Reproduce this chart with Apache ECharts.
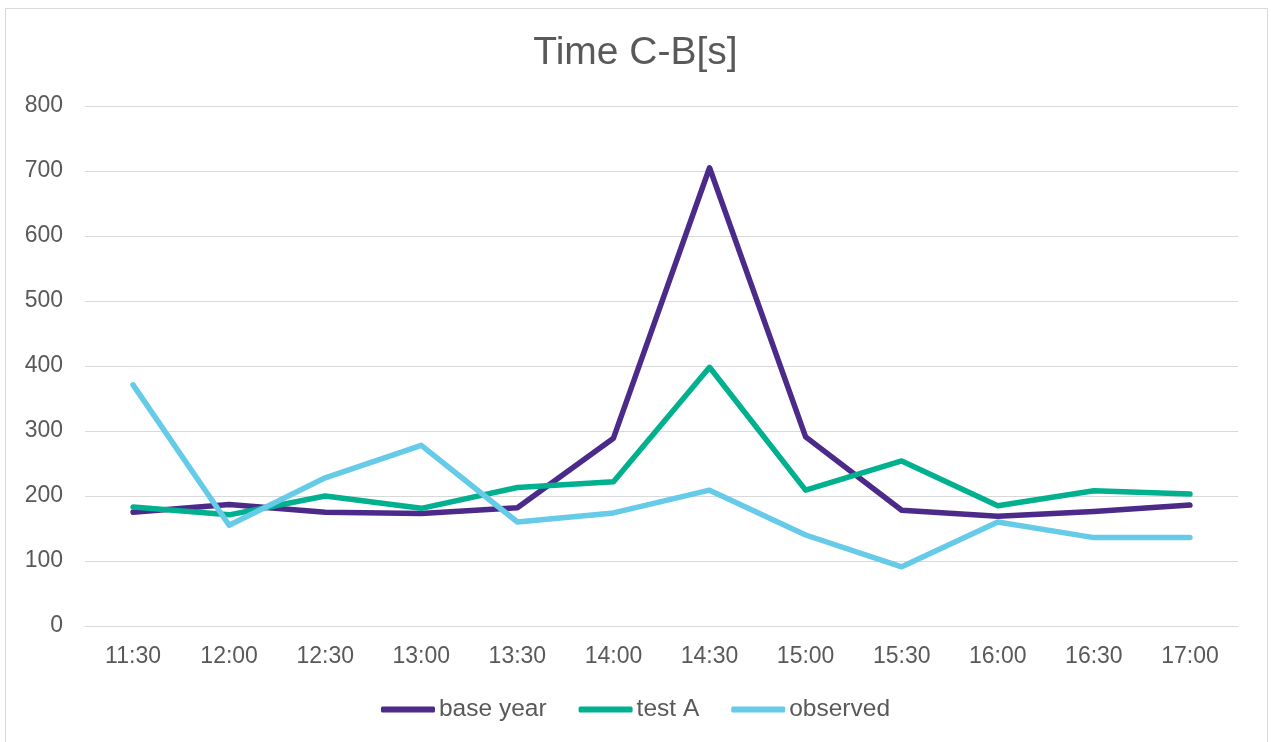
<!DOCTYPE html>
<html>
<head>
<meta charset="utf-8">
<script src="https://cdn.jsdelivr.net/npm/echarts@6/dist/echarts.min.js"></script>
<style>
  html, body { margin: 0; padding: 0; background: #ffffff; }
  #chart { width: 1271px; height: 742px; }
</style>
</head>
<body>
<div id="chart"></div>
<script>
// Half-hour time slots on the x axis
const categories = ['11:30', '12:00', '12:30', '13:00', '13:30', '14:00', '14:30', '15:00', '15:30', '16:00', '16:30', '17:00'];

// Travel time C-B in seconds per slot
const baseYear = [175, 187, 175, 173, 182, 289, 705, 291, 178, 169, 176, 186];
const testA    = [183, 171, 200, 181, 213, 222, 398, 209, 254, 185, 208, 203];
const observed = [371, 155, 228, 278, 160, 174, 209, 140, 91, 160, 136, 136];

const seriesNames = ['base year', 'test A', 'observed'];
const seriesColors = ['#4b2a8a', '#00b08f', '#66cbe8'];
const seriesData = [baseYear, testA, observed];

const textColor = '#595959';
const fontFamily = '"Liberation Sans", Arial, sans-serif';

const chart = echarts.init(document.getElementById('chart'), null, { renderer: 'canvas' });

chart.setOption({
  backgroundColor: '#ffffff',
  animation: false,
  graphic: [{
    type: 'rect',
    shape: { x: 5.5, y: 8.5, width: 1262, height: 760 },
    style: { fill: 'none', stroke: '#d9d9d9', lineWidth: 1 },
    silent: true
  }],
  title: {
    text: 'Time C-B[s]',
    left: 'center',
    top: 29,
    textStyle: { color: textColor, fontSize: 39, fontWeight: 'normal', fontFamily: fontFamily }
  },
  legend: {
    data: seriesNames,
    top: 692,
    left: 'center',
    icon: 'roundRect',
    itemWidth: 54,
    itemHeight: 6,
    itemGap: 32,
    textStyle: { color: textColor, fontSize: 24.5, fontFamily: fontFamily, padding: [0, 0, 0, -1] }
  },
  grid: { left: 85, right: 33, top: 106, bottom: 116, containLabel: false },
  xAxis: {
    type: 'category',
    data: categories,
    boundaryGap: true,
    axisLine: { show: true, lineStyle: { color: '#d9d9d9', width: 1 } },
    axisTick: { show: false },
    axisLabel: { color: textColor, fontSize: 23, fontFamily: fontFamily, margin: 19 }
  },
  yAxis: {
    type: 'value',
    min: 0,
    max: 800,
    interval: 100,
    axisLine: { show: false },
    axisTick: { show: false },
    splitLine: { lineStyle: { color: '#d9d9d9', width: 1 } },
    axisLabel: { color: textColor, fontSize: 23, fontFamily: fontFamily, margin: 22, lineHeight: 27, verticalAlign: 'middle', padding: [5, 0, 0, 0] }
  },
  series: seriesNames.map((name, i) => ({
    name: name,
    type: 'line',
    data: seriesData[i],
    symbol: 'none',
    smooth: false,
    lineStyle: { color: seriesColors[i], width: 5.5, cap: 'round', join: 'round' },
    itemStyle: { color: seriesColors[i] },
    z: 2 + i
  }))
});
</script>
</body>
</html>
